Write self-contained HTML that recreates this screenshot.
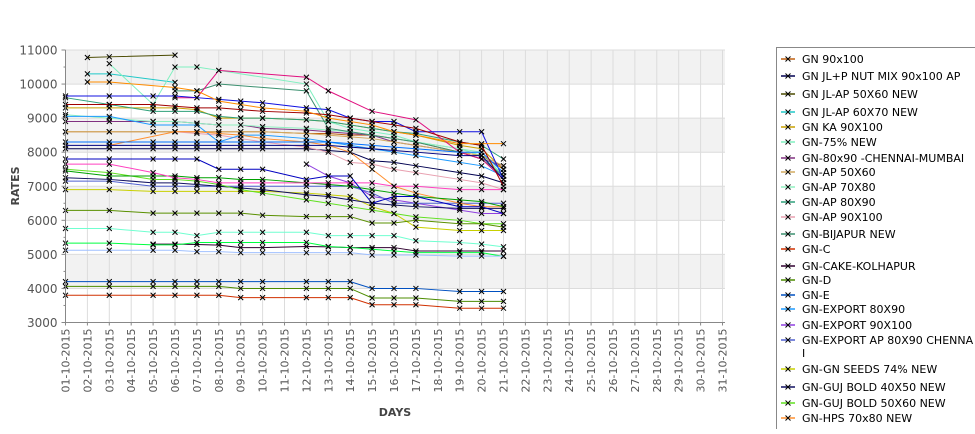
<!DOCTYPE html>
<html><head><meta charset="utf-8"><style>
body{margin:0;background:#fff;width:975px;height:429px;overflow:hidden;font-family:"Liberation Sans","DejaVu Sans",sans-serif}
</style></head><body>
<svg id="chart" width="975" height="429" xmlns="http://www.w3.org/2000/svg" font-family="DejaVu Sans, Liberation Sans, sans-serif">
<g id="bands"></g>
<g id="grid"></g>
<g id="series"></g>
<g id="axes"></g>
<text x="19" y="186" transform="rotate(-90 19 186)" text-anchor="middle" font-size="11" font-weight="bold" fill="#444">RATES</text>
<text x="395" y="416" text-anchor="middle" font-size="11" font-weight="bold" fill="#444">DAYS</text>
<g id="legend"></g>
</svg>
<script>
const dayLabels=[];for(let d=1;d<=31;d++)dayLabels.push((d<10?'0':'')+d+'-10-2015');
const sampleDays=[1,2,3,5,6,7,8,9,10,12,13,14,15,16,17,19,20,21];
const yTicks=[3000,4000,5000,6000,7000,8000,9000,10000,11000];
const seriesNames=["GN 90x100","GN JL+P NUT MIX 90x100 AP","GN JL-AP 50X60 NEW","GN JL-AP 60X70 NEW","GN KA 90X100","GN-75% NEW","GN-80x90 -CHENNAI-MUMBAI","GN-AP 50X60","GN-AP 70X80","GN-AP 80X90","GN-AP 90X100","GN-BIJAPUR NEW","GN-C","GN-CAKE-KOLHAPUR","GN-D","GN-E","GN-EXPORT 80X90","GN-EXPORT 90X100","GN-EXPORT AP 80X90 CHENNAI","GN-GN SEEDS 74% NEW","GN-GUJ BOLD 40X50 NEW","GN-GUJ BOLD 50X60 NEW","GN-HPS  70x80 NEW","S24","S25","S26","S27","S28","S29","S30","S31","S32","S33","S34","S35","S36"];
const seriesColors=["#c06010","#000050","#4a4a00","#20c8c8","#c8a000","#80f0c0","#803080","#d2aa60","#90f0c0","#2ea07a","#e8a0b0","#3c9070","#d03000","#300030","#4c8c00","#0050c0","#1e9bff","#9040e0","#5060d0","#c8d000","#101060","#60e020","#ff9030","#00a000","#ff40c0","#0000c0","#00ff40","#a0c0ff","#70ffd0","#5a9000","#e0107f","#1010e0","#0070ff","#000080","#a00000","#ff8c00"];
const N=null;
const s0=[8600,N,8600,8600,8600,8600,8600,8600,8600,8550,8550,8500,8500,8400,8300,8000,7900,7500];
const s1=[8100,N,8100,8100,8100,8100,8100,8100,8100,8100,8050,8000,7750,7700,7600,7400,7300,7100];
const s2=[N,10780,10800,N,10850,N,N,N,N,N,N,N,N,N,N,N,N,N];
const s3=[N,10300,10300,N,10050,N,N,N,N,N,N,N,N,N,N,N,N,N];
const s4=[9300,N,9300,9300,9300,9250,9000,9000,9000,8950,8900,8800,8700,8600,8500,8200,8100,7500];
const s5=[N,N,10600,9400,10500,10500,10400,N,N,10000,8900,8700,8600,8500,8300,8100,7900,7300];
const s6=[8900,N,8900,8900,8900,8850,8800,8800,8700,8650,8600,8550,8500,8300,8200,8000,7800,7600];
const s7=[8600,N,8600,8600,8600,8600,8600,8600,8600,8550,8500,8450,8400,8300,8200,8000,7900,7600];
const s8=[9100,N,9000,8900,8900,8850,8800,8800,8750,8700,8650,8600,8500,8400,8300,8100,8000,7300];
const s9=[9600,N,9400,9200,9200,9200,9050,9000,9000,8950,8900,8800,8700,8600,8550,8300,8200,7800];
const s10=[N,N,N,N,8600,8550,8500,8400,8300,8150,8000,7700,7650,7500,7400,7200,7100,6900];
const s11=[N,N,N,N,9800,9800,10000,N,N,9800,8700,8600,8500,8400,8300,8000,7800,7300];
const s12=[3800,N,3800,3800,3800,3800,3800,3730,3730,3730,3730,3730,3520,3520,3520,3420,3420,3420];
const s13=[N,N,N,5300,5300,5290,5270,5200,5200,5230,5220,5200,5200,5200,5100,5100,5100,5100];
const s14=[4060,N,4060,4060,4060,4060,4060,4000,4000,4000,4000,4000,3720,3720,3720,3620,3620,3620];
const s15=[4200,N,4200,4200,4200,4200,4200,4200,4200,4200,4200,4200,4000,4000,4000,3910,3910,3910];
const s16=[9050,N,9050,8800,8800,8800,8300,8500,8500,8400,8300,8200,8100,8000,7900,7700,7600,7300];
const s17=[N,N,N,N,N,N,N,N,N,7650,7300,7100,6700,6600,6500,6300,6200,6200];
const s18=[7150,N,7150,7000,7000,7000,7000,7000,7000,7000,7000,7000,6800,6500,6500,6500,6500,6500];
const s19=[6900,N,6900,6850,6850,6850,6850,6850,6850,6800,6750,6700,6400,6200,5800,5700,5700,5700];
const s20=[7250,N,7200,7100,7100,7050,7000,6950,6900,6750,6700,6600,6500,6450,6400,6350,6350,6350];
const s21=[7500,N,7400,7200,7200,7150,7050,6900,6800,6600,6500,6400,6300,6200,6100,6000,5900,5900];
const s22=[N,N,8200,N,8600,8600,8550,8500,8400,8300,8200,8000,7500,7000,6800,6500,6400,6400];
const s23=[7450,N,7300,7300,7300,7250,7250,7200,7200,7100,7050,7000,6900,6800,6700,6600,6550,6400];
const s24=[7650,N,7650,7400,7250,7200,7100,7100,7100,7100,7100,7100,7100,7000,7000,6900,6900,6900];
const s25=[7800,N,7800,7800,7800,7800,7500,7500,7500,7200,7300,7300,6500,6700,6700,6400,6400,6200];
const s26=[5330,N,5330,5280,5280,5350,5350,5350,5350,5350,5230,5200,5150,5100,5050,5050,5050,4940];
const s27=[5120,N,5120,5120,5120,5080,5080,5050,5050,5050,5050,5050,4980,4980,4980,4950,4950,4950];
const s28=[5760,N,5760,5650,5650,5550,5650,5650,5650,5650,5550,5550,5550,5550,5400,5350,5300,5220];
const s29=[6290,N,6290,6210,6210,6210,6210,6210,6150,6110,6110,6110,5920,5920,6000,5900,5900,5800];
const s30=[N,N,N,N,9600,9600,10400,N,N,10200,9800,N,9200,N,8950,8000,7800,7200];
const s31=[9650,N,9650,9650,9650,9600,9550,9500,9450,9300,9250,9000,8900,8900,8600,8600,8600,7200];
const s32=[8300,N,8300,8300,8300,8300,8300,8300,8300,8300,8300,8250,8200,8150,8100,8000,8000,7400];
const s33=[8200,N,8200,8200,8200,8200,8200,8200,8200,8200,8200,8150,8100,8050,8000,7900,7900,7200];
const s34=[9400,N,9400,9400,9350,9300,9300,9250,9200,9150,9100,9000,8900,8800,8700,8300,8200,7000];
const s35=[N,10060,10060,N,9900,9800,9500,9400,9300,9200,9000,8900,8800,8600,8500,8250,8250,8250];
const allSeries=[s0,s1,s2,s3,s4,s5,s6,s7,s8,s9,s10,s11,s12,s13,s14,s15,s16,s17,s18,s19,s20,s21,s22,s23,s24,s25,s26,s27,s28,s29,s30,s31,s32,s33,s34,s35];

const NS='http://www.w3.org/2000/svg';
const L=65.5,R=725,T=50,B=322.5,yMin=3000,yMax=11000;
const xs=d=>L+(d-1)*21.9;
const ys=v=>B-(v-yMin)/(yMax-yMin)*(B-T);
function mk(tag,attrs,parent){const e=document.createElementNS(NS,tag);for(const k in attrs)e.setAttribute(k,attrs[k]);parent.appendChild(e);return e;}
const bands=document.getElementById('bands'),grid=document.getElementById('grid'),ser=document.getElementById('series'),axes=document.getElementById('axes'),leg=document.getElementById('legend');
mk('rect',{x:L,y:T,width:R-L,height:B-T,fill:'#fff'},bands);
for(let i=0;i<yTicks.length-1;i++){if((yTicks.length-2-i)%2===0){const r=mk('rect',{x:L,y:ys(yTicks[i+1]),width:R-L,height:ys(yTicks[i])-ys(yTicks[i+1]),fill:'#f2f2f2'},bands);

}}
yTicks.forEach(v=>{const l=mk('line',{x1:L,x2:R,y1:ys(v),y2:ys(v),stroke:'#dcdcdc','stroke-width':1},grid);


const t=mk('text',{x:L-8,y:ys(v)+4.5,'text-anchor':'end','font-size':12,fill:'#555'},axes);t.textContent=v;


mk('line',{x1:L-4,x2:L,y1:ys(v),y2:ys(v),stroke:'#888'},axes);
if(v<yMax)mk('line',{x1:L-2,x2:L,y1:ys(v+500),y2:ys(v+500),stroke:'#888'},axes);});
dayLabels.forEach((lab,i)=>{const x=xs(i+1);const l=mk('line',{x1:x,x2:x,y1:T,y2:B,stroke:'#dcdcdc'},grid);


mk('line',{x1:x,x2:x,y1:B,y2:B+3,stroke:'#888'},axes);
const t=mk('text',{x:0,y:0,'text-anchor':'end','font-size':11,fill:'#555',transform:`translate(${x+4},${B+6}) rotate(-90)`},axes);t.textContent=lab;

});
mk('line',{x1:L,x2:L,y1:T,y2:B,stroke:'#888'},axes);
mk('line',{x1:L,x2:R,y1:B,y2:B,stroke:'#888'},axes);
function cross(g,x,y,s){mk('path',{d:`M${x-s},${y-s}L${x+s},${y+s}M${x-s},${y+s}L${x+s},${y-s}`,stroke:'#000','stroke-width':1,fill:'none'},g);}
allSeries.forEach((vals,si)=>{const g=mk('g',{},ser);


const pts=[];vals.forEach((v,i)=>{if(v!==null)pts.push([xs(sampleDays[i]),ys(v)]);});
if(pts.length>1)mk('polyline',{points:pts.map(p=>p.join(',')).join(' '),fill:'none',stroke:seriesColors[si],'stroke-width':1},g);
pts.forEach(p=>cross(g,p[0],p[1],2.5));});
mk('rect',{x:776.5,y:47.5,width:220,height:400,fill:'#fff',stroke:'#888'},leg);
const legY=[59,76,94,112,127,142,158,172,187,202,217,234,249,266,280,295,309,325,340,369,387,403,418];
for(let i=0;i<23;i++){const g=mk('g',{},leg);


const y=legY[i];mk('line',{x1:781,x2:795,y1:y,y2:y,stroke:seriesColors[i],'stroke-width':1.5},g);cross(g,788,y,2.5);
const t=mk('text',{x:802,y:y+4,'font-size':11,fill:'#000'},g);
if(i===18){t.textContent='GN-EXPORT AP 80X90 CHENNA';const t2=mk('text',{x:802,y:y+17,'font-size':11,fill:'#000'},g);t2.textContent='I';}
else t.textContent=seriesNames[i];}
</script>
</body></html>
